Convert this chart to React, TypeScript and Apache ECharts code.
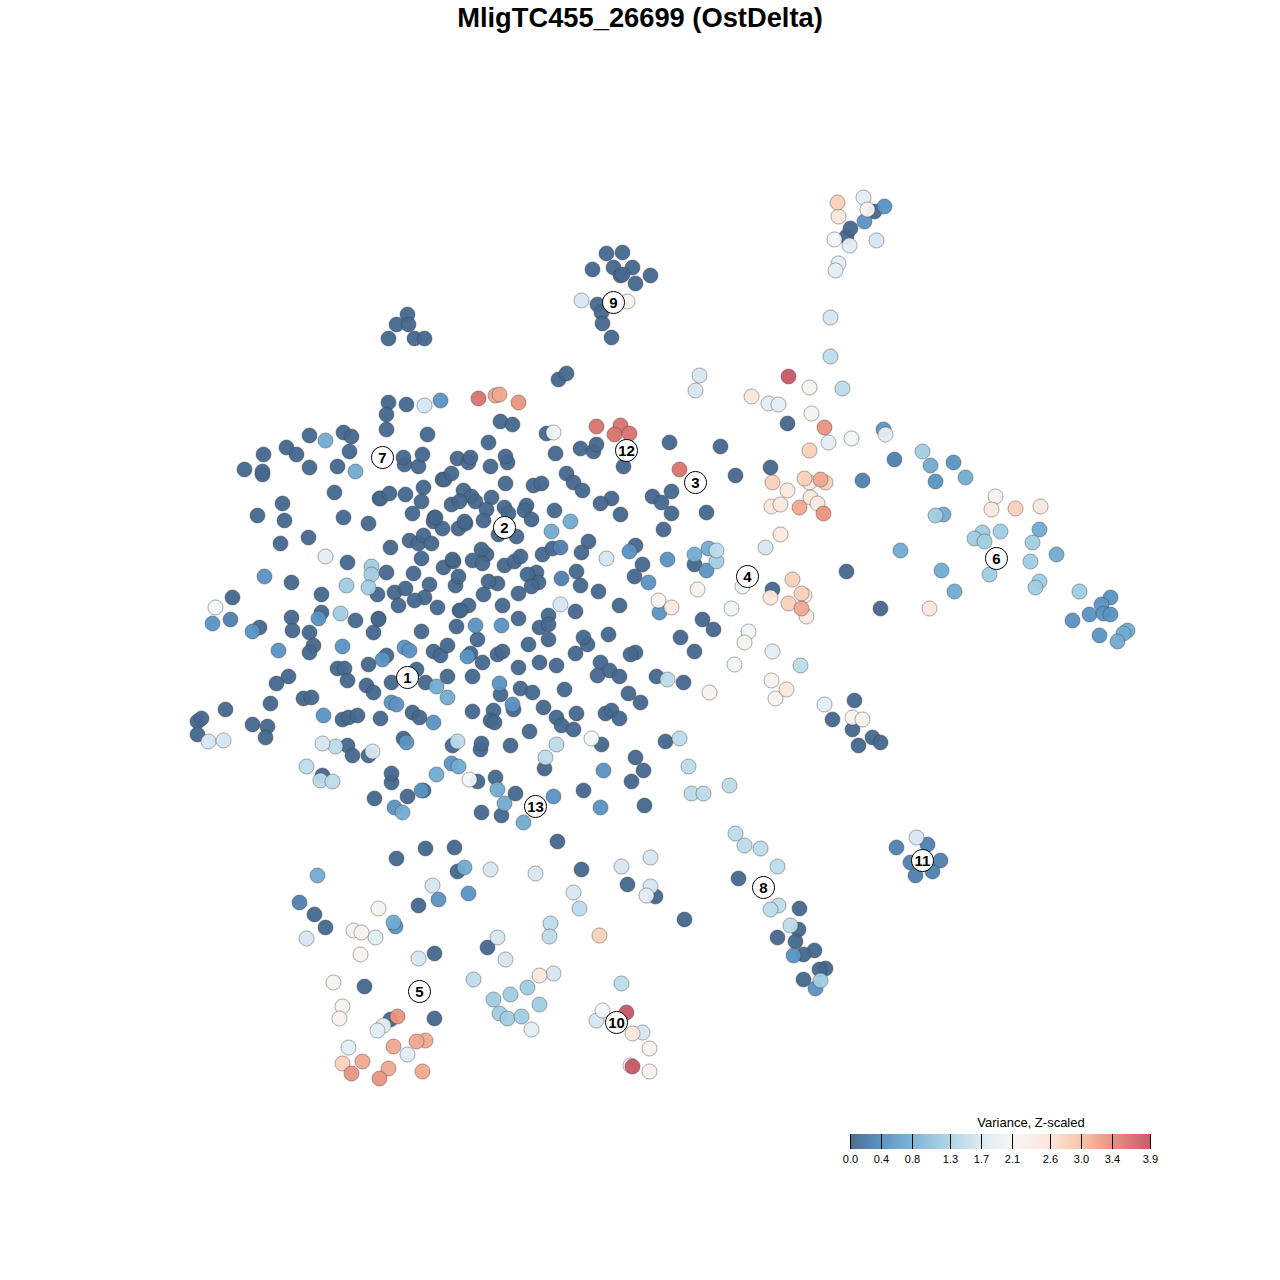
import React, { useEffect, useRef } from "react";
import * as echarts from "echarts";

type P = [number, number];
const FONT = "'Liberation Sans', Arial, sans-serif";

// cell positions, grouped by variance level
const level010: P[] = [
[388,402],[406,404],[386,414],[386,429],[427,434],[309,435],[343,432],[351,436],[286,447],[296,454],[263,454],[349,451],[244,469],[262,474],[262,471],[309,467],[337,466],[404,464],[403,457],[418,466],[422,454],[334,492],[379,498],[380,498],[389,493],[405,494],[423,487],[421,501],[412,513],[282,503],[257,515],[284,520],[343,517],[368,523],[308,537],[280,543],[390,547],[409,540],[418,543],[423,535],[431,543],[421,558],[347,562],[386,572],[413,573],[291,582],[321,594],[232,597],[377,594],[394,592],[405,588],[429,584],[424,597],[414,600],[398,605],[437,607],[321,612],
[434,517],[433,521],[442,528],[442,479],[500,421],[512,424],[546,433],[488,442],[580,448],[593,451],[596,444],[555,453],[669,442],[457,458],[468,462],[470,457],[507,462],[505,456],[490,466],[623,466],[566,473],[573,482],[582,490],[444,479],[451,473],[505,483],[533,485],[541,483],[671,491],[652,496],[661,502],[671,513],[663,529],[611,498],[600,503],[620,514],[463,490],[471,496],[451,504],[459,501],[475,501],[491,497],[486,509],[504,507],[508,513],[526,505],[524,510],[531,519],[554,510],[483,520],[435,517],[458,528],[465,523],[464,521],[498,534],[516,536],[486,554],[481,549],[472,560],[482,563],[504,565],[514,561],[520,556],[542,554],[552,548],[588,541],[581,552],[635,545],[642,564],[443,567],[453,561],[452,559],[455,585],[458,576],[497,583],[488,581],[536,572],[538,582],[527,574],[531,586],[576,571],[580,585],[598,591],[634,576],[483,594],[518,593],[459,610],[468,605],[502,605],[575,611],[548,615],[619,605],[518,618],[378,618],
[259,627],[291,617],[292,630],[309,632],[355,620],[378,619],[373,632],[421,631],[313,645],[309,652],[368,664],[386,655],[433,651],[440,655],[337,668],[344,668],[347,680],[288,676],[276,683],[366,685],[373,692],[391,682],[416,669],[425,682],[270,703],[303,698],[311,697],[412,712],[419,717],[342,719],[348,717],[357,715],[380,718],[225,709],[197,721],[201,718],[252,724],[267,726],[265,737],[197,734],[347,745],[352,755],[368,755],[403,738],[322,775],[391,782],[391,773],[374,798],[407,796],
[460,610],[539,627],[548,624],[456,626],[477,639],[548,639],[528,644],[587,644],[583,637],[608,634],[575,653],[635,652],[630,654],[702,619],[713,629],[680,637],[694,651],[447,645],[470,653],[482,662],[497,654],[502,651],[539,662],[556,665],[518,667],[600,662],[609,670],[597,675],[619,676],[656,676],[683,682],[472,676],[447,676],[500,694],[520,688],[532,692],[564,689],[628,693],[640,702],[472,711],[513,709],[493,710],[543,707],[490,720],[494,722],[556,717],[561,725],[573,729],[576,713],[605,713],[611,710],[619,718],[529,731],[601,744],[665,741],[510,745],[480,749],[481,743],[452,745],[544,768],[635,757],[643,770],[631,781],[477,781],[495,777],[515,793],[583,790],[644,805],[481,812],[501,815],[423,790],
[606,253],[622,252],[592,269],[613,267],[632,267],[620,275],[622,274],[650,275],[635,283],[597,304],[601,312],[602,323],[611,337],[874,211],[846,236],[850,228],
[407,314],[396,324],[408,324],[388,338],[414,338],[424,338],[558,379],[566,373],
[787,423],[720,446],[735,475],[770,467],[706,512],[694,564],[846,571],[772,589],[880,608],
[854,700],[832,719],[852,729],[872,737],[880,742],[858,745],[738,878],[684,919],[799,908],[798,929],[777,937],[795,941],[814,950],[803,954],[825,968],[819,969],[803,979],
[425,848],[454,847],[396,858],[557,841],[457,871],[418,905],[314,914],[325,927],[434,953],[487,947],[364,986],[434,1018],[390,1019],[581,869],[627,884],[655,896],
];
const level030: P[] = [
[560,547],[561,578],[894,459],[862,480],[299,902],[896,847],[927,844],[910,862],[940,860],[932,871],[915,875],[230,619],
];
const level050: P[] = [
[440,400],[264,576],[629,551],[667,559],[648,582],[659,612],[212,623],[252,631],[318,618],[278,650],[342,646],[382,659],[404,647],[409,650],[323,715],[391,702],[396,704],[433,722],[406,742],[421,790],[394,807],[475,625],[501,625],[467,656],[499,683],[512,704],[451,763],[603,770],[553,796],[600,807],[884,206],[864,221],[883,429],[706,570],[1110,597],[1101,604],[1089,614],[1103,613],[1110,614],[1072,620],[1099,635],[793,955],[815,988],[468,893],[438,899],[395,926],[953,462],[935,481],
];
const level080: P[] = [
[325,440],[355,471],[570,521],[551,531],[436,686],[447,697],[402,812],[436,774],[458,766],[497,789],[504,803],[523,822],[694,554],[708,548],[930,465],[965,477],[1039,529],[1056,554],[1127,630],[1123,633],[1117,641],[317,875],[464,867],[393,922],[943,514],[900,550],[941,570],[954,591],
];
const level120: P[] = [
[371,566],[371,574],[346,585],[368,587],[340,613],[922,451],[716,561],[935,515],[1000,531],[982,532],[974,538],[984,541],[1032,542],[1030,561],[989,574],[1039,581],[1035,587],[1079,591],[820,980],[527,987],[510,994],[493,999],[539,1004],[499,1013],[507,1018],[521,1016],
];
const level145: P[] = [
[667,679],[335,746],[306,766],[320,780],[332,781],[457,741],[556,744],[545,757],[679,738],[688,766],[691,793],[703,793],[729,785],[830,356],[842,388],[716,550],[800,665],[735,833],[744,845],[760,848],[777,866],[778,905],[770,909],[790,925],[550,923],[549,936],[579,908],[621,983],[473,979],
];
const level170: P[] = [
[424,405],[606,558],[560,604],[208,741],[223,740],[322,743],[372,751],[581,300],[830,317],[699,375],[695,390],[876,240],[765,547],[916,837],[490,869],[535,873],[432,885],[306,938],[418,958],[497,937],[505,959],[553,973],[596,1020],[642,1032],[621,866],[650,857],[650,886],[573,892],
];
const level190: P[] = [
[325,556],[863,197],[849,245],[838,263],[835,270],[768,403],[778,404],[828,442],[885,434],[772,651],[824,704],[375,937],[531,1029],[383,1025],[377,1030],[348,1047],[407,1054],[646,895],
];
const level210: P[] = [
[215,607],[553,432],[591,738],[469,779],[834,239],[851,438],[742,586],[731,608],[748,631],[734,664],[602,1010],[630,1065],
];
const level225: P[] = [
[658,600],[627,301],[867,209],[809,387],[811,413],[697,589],[744,642],[709,692],[771,680],[775,698],[852,717],[862,719],[378,908],[353,930],[361,932],[360,954],[333,982],[342,1006],[339,1018],[995,496],[649,1048],[649,1071],
];
const level250: P[] = [
[671,607],[838,216],[751,396],[787,490],[809,482],[810,497],[817,503],[771,506],[780,504],[780,534],[770,597],[804,595],[806,616],[929,608],[786,689],[991,509],[1040,506],[539,975],[632,1033],
];
const level285: P[] = [
[837,202],[809,450],[772,482],[804,478],[825,482],[792,579],[801,593],[788,603],[1015,508],[342,1063],[599,935],
];
const level325: P[] = [
[495,395],[499,394],[820,479],[799,507],[801,608],[393,1046],[425,1040],[416,1041],[422,1071],[362,1061],[388,1068],
];
const level340: P[] = [
[518,402],[824,427],[823,513],[397,1016],[351,1073],[379,1078],
];
const level365: P[] = [
[478,398],[596,426],[620,425],[614,434],[629,433],[679,469],
];
const level385: P[] = [
[788,376],[626,1012],[632,1066],
];

const pointLevels: [number, P[]][] = [
  [0.03, level010], [0.3, level030], [0.5, level050], [0.8, level080], [1.2, level120],
  [1.45, level145], [1.7, level170], [1.9, level190], [2.1, level210], [2.25, level225],
  [2.5, level250], [2.85, level285], [3.25, level325], [3.4, level340], [3.65, level365], [3.85, level385],
];

const clusterIds = ["1","2","3","4","5","6","7","8","9","10","11","12","13"];
const clusterX = [407,504,695,747,419,996,382,763,613,616,922,626,535];
const clusterY = [677,527,482,576,991,558,457,887,302,1022,860,450,806];

const rampColors = ["#44648a","#548dbf","#78b0d4","#acd4e4","#dbe8f2","#f6f6f6","#fde3d5","#f8c2a4","#e58d79","#c35063"];
const tickValues = [0, 0.4, 0.8, 1.3, 1.7, 2.1, 2.6, 3.0, 3.4, 3.9];
const tickLabels = ["0.0","0.4","0.8","1.3","1.7","2.1","2.6","3.0","3.4","3.9"];
const MAX_VALUE = 3.9;
const POINT_OPACITY = 0.95;

const BAR_X = 850;
const BAR_W = 300;
const BAR_Y = 1134;
const BAR_H = 15;

export default function App() {
  const ref = useRef<HTMLDivElement>(null);
  useEffect(() => {
    const chart = echarts.init(ref.current!, undefined, { renderer: "svg" });
    const points: number[][] = [];
    pointLevels.forEach(([v, pts]) => pts.forEach(([x, y]) => points.push([x, y, v])));
    const tickGraphics: any[] = [];
    tickValues.forEach((v, i) => {
      const x = Math.round(BAR_X + (v / MAX_VALUE) * BAR_W);
      tickGraphics.push({
        type: "line",
        shape: { x1: x + 0.5, y1: BAR_Y, x2: x + 0.5, y2: BAR_Y + BAR_H },
        style: { stroke: "#000", lineWidth: 1 },
        silent: true,
      });
      tickGraphics.push({
        type: "text",
        x: x + 0.5,
        y: BAR_Y + 25,
        style: {
          text: tickLabels[i],
          fontFamily: FONT,
          fontSize: 11,
          fill: "#000",
          textAlign: "center",
          textVerticalAlign: "middle",
        },
        silent: true,
      });
    });
    chart.setOption({
      animation: false,
      backgroundColor: "#fff",
      title: {
        text: "MligTC455_26699 (OstDelta)",
        left: "center",
        top: -1,
        textStyle: { fontFamily: FONT, fontSize: 27.3, fontWeight: "bold", color: "#000" },
      },
      grid: { left: 0, right: 0, top: 0, bottom: 0 },
      xAxis: { type: "value", min: -0.5, max: 1279.5, show: false },
      yAxis: { type: "value", min: -0.5, max: 1279.5, inverse: true, show: false },
      visualMap: {
        show: false,
        type: "continuous",
        min: 0,
        max: MAX_VALUE,
        dimension: 2,
        seriesIndex: 0,
        inRange: { color: rampColors },
      },
      series: [
        {
          type: "scatter",
          data: points,
          symbol: "circle",
          symbolSize: 15,
          silent: true,
          itemStyle: { opacity: POINT_OPACITY, borderColor: "rgba(60,60,60,0.45)", borderWidth: 1 },
          z: 2,
        },
        {
          type: "scatter",
          data: clusterIds.map((id, i) => ({ value: [clusterX[i], clusterY[i]], name: id })),
          symbol: "circle",
          symbolSize: 22,
          silent: true,
          itemStyle: { color: "#fff", borderColor: "#000", borderWidth: 1, opacity: 1 },
          label: {
            show: true,
            position: "inside",
            formatter: (p: any) => p.name,
            fontFamily: FONT,
            fontSize: 15,
            fontWeight: "bold",
            color: "#000",
          },
          z: 5,
        },
      ],
      graphic: [
        {
          type: "text",
          x: 1031,
          y: 1122,
          style: {
            text: "Variance, Z-scaled",
            fontFamily: FONT,
            fontSize: 13,
            fill: "#000",
            textAlign: "center",
            textVerticalAlign: "middle",
          },
          silent: true,
        },
        {
          type: "rect",
          shape: { x: BAR_X, y: BAR_Y, width: BAR_W + 1, height: BAR_H },
          style: {
            opacity: POINT_OPACITY,
            fill: new echarts.graphic.LinearGradient(
              0, 0, 1, 0,
              tickValues.map((v, i) => ({ offset: v / MAX_VALUE, color: rampColors[i] }))
            ),
          },
          silent: true,
        },
        ...tickGraphics,
      ],
    });
    return () => chart.dispose();
  }, []);
  return (
    <div
      ref={ref}
      style={{ position: "absolute", left: 0, top: 0, width: 1280, height: 1280 }}
    />
  );
}
